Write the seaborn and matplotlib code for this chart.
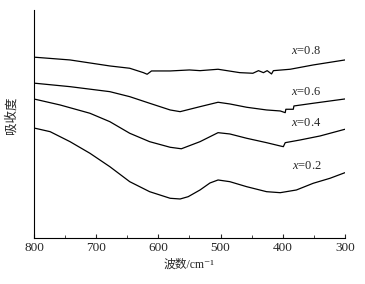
import matplotlib
matplotlib.use("Agg")
import matplotlib.pyplot as plt
import seaborn as sns
import pandas as pd
from matplotlib.ticker import MultipleLocator

sns.set_theme(style="white")
plt.rcParams['font.family'] = ['Liberation Serif', 'Noto Sans CJK SC', 'DejaVu Sans']
plt.rcParams['mathtext.fontset'] = 'custom'
plt.rcParams['mathtext.it'] = 'Liberation Serif:italic'
plt.rcParams['mathtext.rm'] = 'Liberation Serif'

# wavenumber (cm^-1) and absorbance (arbitrary units, offset curves)
wn_08 = [798, 742, 678, 646, 624, 618, 611, 581, 550, 533, 504, 469, 448, 439, 431, 425, 418, 415, 388, 351, 300]
ab_08 = [1.807, 1.780, 1.720, 1.697, 1.653, 1.637, 1.670, 1.670, 1.680, 1.673, 1.687, 1.653, 1.647, 1.673,
         1.653, 1.673, 1.640, 1.673, 1.687, 1.730, 1.780]

wn_06 = [798, 742, 678, 646, 614, 581, 565, 533, 504, 485, 458, 426, 404, 396, 395, 383, 382, 351, 300]
ab_06 = [1.547, 1.513, 1.463, 1.413, 1.347, 1.280, 1.263, 1.313, 1.357, 1.340, 1.307, 1.280, 1.270, 1.253,
         1.287, 1.287, 1.320, 1.347, 1.390]

wn_04 = [798, 758, 710, 678, 646, 614, 581, 563, 533, 504, 485, 458, 426, 404, 399, 396, 372, 340, 300]
ab_04 = [1.387, 1.330, 1.247, 1.163, 1.047, 0.963, 0.907, 0.892, 0.963, 1.053, 1.040, 0.997, 0.953, 0.920,
         0.913, 0.953, 0.980, 1.020, 1.087]

wn_02 = [798, 774, 742, 710, 678, 646, 614, 581, 565, 552, 533, 517, 504, 485, 458, 426, 404, 378, 351, 324, 300]
ab_02 = [1.097, 1.063, 0.963, 0.847, 0.713, 0.563, 0.463, 0.397, 0.390, 0.413, 0.480, 0.550, 0.580, 0.563,
         0.513, 0.463, 0.453, 0.480, 0.547, 0.597, 0.653]

series = ["x=0.8", "x=0.6", "x=0.4", "x=0.2"]
label_y = [1.873, 1.463, 1.153, 0.72]

frames = []
for name, wn, ab in zip(series, [wn_08, wn_06, wn_04, wn_02], [ab_08, ab_06, ab_04, ab_02]):
    frames.append(pd.DataFrame({"wn": wn, "ab": ab, "s": name}))
df = pd.concat(frames, ignore_index=True)

fig = plt.figure(figsize=(3.65, 2.84), dpi=100)
ax = fig.add_axes([0.093, 0.162, 0.852, 0.803])
sns.lineplot(data=df, x="wn", y="ab", hue="s", palette=["black"] * 4, estimator=None,
             linewidth=0.9, legend=False, ax=ax)

ax.set_xlim(800, 300)
ax.set_ylim(0, 2.28)
ax.xaxis.set_major_locator(MultipleLocator(100))
ax.xaxis.set_minor_locator(MultipleLocator(50))
ax.tick_params(axis='x', which='major', direction='in', length=3, width=0.8, labelsize=9.5, pad=3, bottom=True)
ax.tick_params(axis='x', which='minor', direction='in', length=2, width=0.6, bottom=True)
ax.set_yticks([])
for sp in ['top', 'right']:
    ax.spines[sp].set_visible(False)
for sp in ['left', 'bottom']:
    ax.spines[sp].set_color('black')
    ax.spines[sp].set_linewidth(0.8)

for name, yv in zip(series, label_y):
    ax.text(338, yv, "$\\mathit{x}$=" + name[2:], ha='right', va='center', fontsize=9)

ax.set_xlabel("波数/cm⁻¹", fontsize=8.5, labelpad=3)
ax.set_ylabel("吸收度", fontsize=9)
ax.yaxis.set_label_coords(-0.053, 0.54)

fig.savefig("out.png", dpi=100)
